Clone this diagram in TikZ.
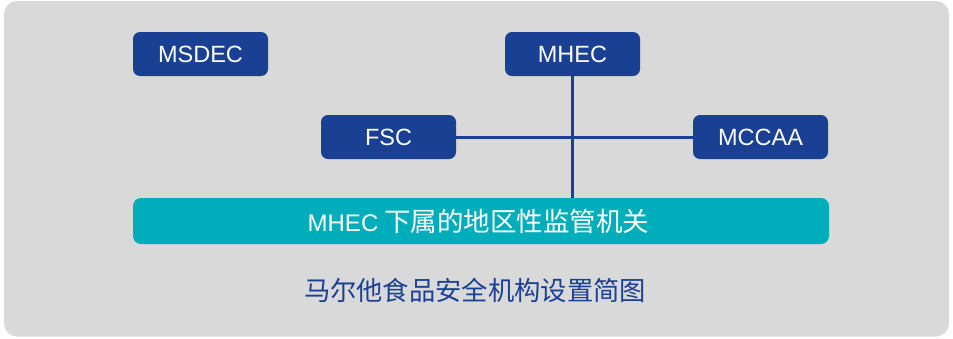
\documentclass[tikz,border=0pt]{standalone}
\usepackage{fontspec}
\setmainfont{Liberation Sans}
\newfontfamily\cjk{Noto Sans CJK SC}
\definecolor{dblue}{HTML}{1A4094}
\definecolor{teal2}{HTML}{00AEBB}
\definecolor{bggray}{HTML}{D9D9D9}
\begin{document}
\begin{tikzpicture}[x=1pt,y=-1pt,
  orgbox/.style={rectangle, rounded corners=7pt, fill=dblue, text=white,
    minimum width=135pt, minimum height=44pt, inner sep=0pt,
    font=\fontsize{23.5}{26}\selectfont},
  barbox/.style={rectangle, rounded corners=8pt, fill=teal2, text=white,
    minimum width=696pt, minimum height=46pt, inner sep=0pt},
  link/.style={draw=dblue, line width=3pt},
  caption/.style={text=dblue, inner sep=0pt, font=\cjk\fontsize{26.3}{28}\selectfont}]
\useasboundingbox (0,0) rectangle (953,338);
\fill[bggray, rounded corners=13pt] (4,1) rectangle (949,336.5);
\node[orgbox] (msdec) at (200.5,54) {MSDEC};
\node[orgbox] (mhec) at (572.5,54) {MHEC};
\node[orgbox] (fsc) at (388.5,137) {FSC};
\node[orgbox] (mccaa) at (760.5,137) {MCCAA};
\node[barbox] (bar) at (481,221) {\hspace{-5pt}{\fontsize{24}{26}\selectfont MHEC}\hspace{6pt}{\cjk\fontsize{26.5}{29}\selectfont 下属的地区性监管机关}};
\node[caption] (cap) at (475,290) {马尔他食品安全机构设置简图};
\draw[link] (mhec.south) -- (mhec.south |- bar.north);
\draw[link] (fsc.east) -- (mccaa.west);
\end{tikzpicture}
\end{document}
